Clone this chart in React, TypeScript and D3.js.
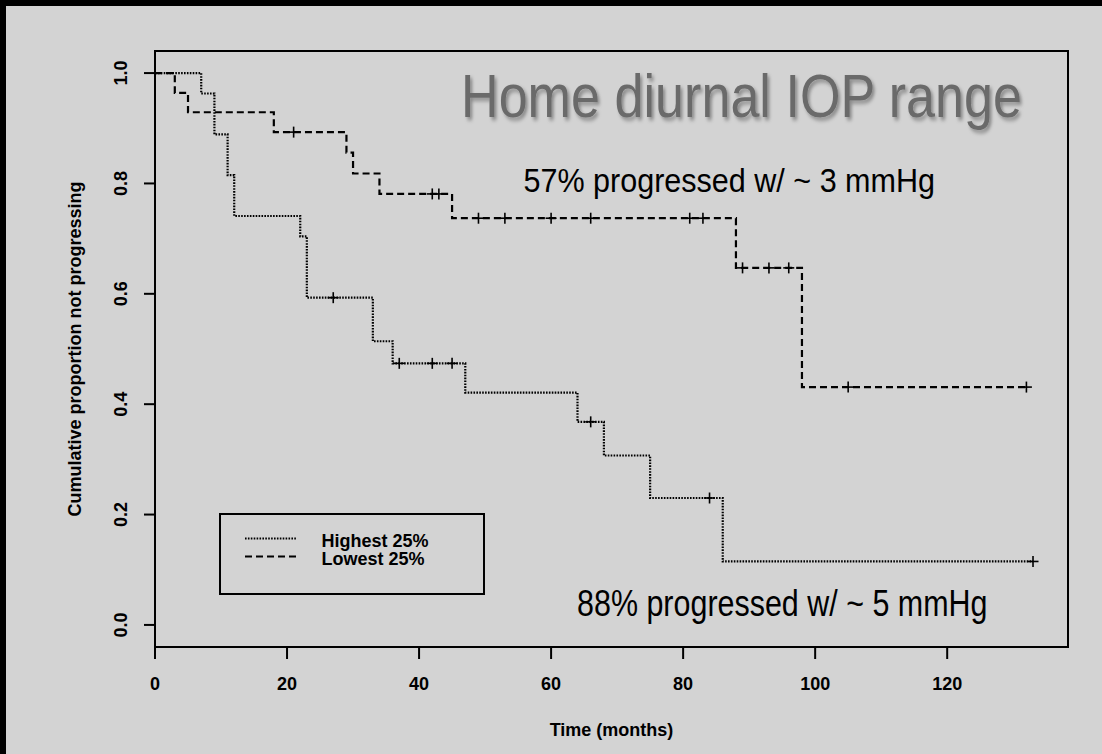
import React from "react";
import * as d3 from "d3";

// Kaplan–Meier curves: time of each step (months) and survival after it
const highTimes = [0, 7, 9, 11, 12, 22, 23, 33, 36, 47, 64, 68, 75, 86];
const highSurv = [1, 0.963, 0.889, 0.815, 0.741, 0.704, 0.593, 0.514, 0.474, 0.421, 0.368, 0.307, 0.23, 0.115];
const highEnd = 133;
const highCensor = [27, 37, 42, 45, 66, 84, 133];

const lowTimes = [0, 3, 5, 18, 29, 30, 34, 45, 88, 98];
const lowSurv = [1, 0.964, 0.929, 0.893, 0.856, 0.818, 0.781, 0.737, 0.647, 0.431];
const lowEnd = 132;
const lowCensor = [21, 42, 43, 49, 53, 60, 66, 81, 83, 89, 93, 96, 105, 132];

const xTicks = [0, 20, 40, 60, 80, 100, 120];
const yTicks = [0, 0.2, 0.4, 0.6, 0.8, 1.0];

const legendLabels = ["Highest 25%", "Lowest 25%"];

const W = 1102;
const H = 754;
const box = { left: 155, right: 1068, top: 51, bottom: 647 };

const x = d3.scaleLinear().domain([0, 138.3]).range([box.left, box.right]);
const y = d3.scaleLinear().domain([-0.04, 1.04]).range([box.bottom, box.top]);

const font = "'Liberation Sans', Arial, Helvetica, sans-serif";

function stepPoints(times: number[], surv: number[], end: number): [number, number][] {
  const pts: [number, number][] = times.map((t, i) => [t, surv[i]]);
  pts.push([end, surv[surv.length - 1]]);
  return pts;
}

function survAt(times: number[], surv: number[], t: number): number {
  let v = surv[0];
  for (let i = 0; i < times.length; i++) if (times[i] <= t) v = surv[i];
  return v;
}

const stepLine = d3
  .line<[number, number]>()
  .x((d) => x(d[0]))
  .y((d) => y(d[1]))
  .curve(d3.curveStepAfter);

const DOTTED = "1.6 1.3";
const DASHED = "7 4";

function Censors({ times, surv, marks }: { times: number[]; surv: number[]; marks: number[] }) {
  return (
    <g stroke="#000" strokeWidth={1.6}>
      {marks.map((t, i) => {
        const cx = x(t);
        const cy = y(survAt(times, surv, t));
        return (
          <g key={i}>
            <line x1={cx - 5.5} x2={cx + 5.5} y1={cy} y2={cy} />
            <line x1={cx} x2={cx} y1={cy - 5.5} y2={cy + 5.5} />
          </g>
        );
      })}
    </g>
  );
}

export default function App() {
  const highPath = stepLine(stepPoints(highTimes, highSurv, highEnd)) || "";
  const lowPath = stepLine(stepPoints(lowTimes, lowSurv, lowEnd)) || "";

  return (
    <svg
      width={W}
      height={H}
      viewBox={`0 0 ${W} ${H}`}
      style={{ position: "absolute", left: 0, top: 0, display: "block" }}
    >
      <defs>
        <filter id="titleShadow" x="-5%" y="-25%" width="115%" height="160%">
          <feDropShadow dx={2.5} dy={3} stdDeviation={2} floodColor="#000" floodOpacity={0.35} />
        </filter>
      </defs>

      {/* page */}
      <rect x={0} y={0} width={W} height={H} fill="#000" />
      <rect x={6} y={6} width={W - 6} height={H - 6} fill="#d3d3d3" />

      {/* plot frame */}
      <rect
        x={box.left}
        y={box.top}
        width={box.right - box.left}
        height={box.bottom - box.top}
        fill="none"
        stroke="#000"
        strokeWidth={2}
      />

      {/* x axis ticks and labels */}
      <g fontFamily={font} fontWeight="bold" fontSize={18} fill="#000">
        {xTicks.map((t) => (
          <g key={t}>
            <line x1={x(t)} x2={x(t)} y1={box.bottom} y2={box.bottom + 12} stroke="#000" strokeWidth={2} />
            <text x={x(t)} y={690} textAnchor="middle">
              {t}
            </text>
          </g>
        ))}
        <text x={(box.left + box.right) / 2} y={736} textAnchor="middle">
          Time (months)
        </text>
      </g>

      {/* y axis ticks and labels */}
      <g fontFamily={font} fontWeight="bold" fontSize={18} fill="#000">
        {yTicks.map((t) => (
          <g key={t}>
            <line x1={box.left - 11} x2={box.left} y1={y(t)} y2={y(t)} stroke="#000" strokeWidth={2} />
            <text
              x={127.5}
              y={y(t)}
              textAnchor="middle"
              transform={`rotate(-90 127.5 ${y(t)})`}
            >
              {t.toFixed(1)}
            </text>
          </g>
        ))}
        <text
          x={81}
          y={(box.top + box.bottom) / 2}
          textAnchor="middle"
          transform={`rotate(-90 81 ${(box.top + box.bottom) / 2})`}
        >
          Cumulative proportion not progressing
        </text>
      </g>

      {/* survival curves */}
      <path d={highPath} fill="none" stroke="#000" strokeWidth={2.2} strokeDasharray={DOTTED} />
      <path d={lowPath} fill="none" stroke="#000" strokeWidth={2.2} strokeDasharray={DASHED} />
      <Censors times={highTimes} surv={highSurv} marks={highCensor} />
      <Censors times={lowTimes} surv={lowSurv} marks={lowCensor} />

      {/* legend */}
      <rect x={220} y={514} width={264} height={80} fill="none" stroke="#000" strokeWidth={2} />
      <line x1={245} x2={297} y1={538.5} y2={538.5} stroke="#000" strokeWidth={2} strokeDasharray={DOTTED} />
      <line x1={245} x2={297} y1={556.5} y2={556.5} stroke="#000" strokeWidth={2} strokeDasharray={DASHED} />
      <g fontFamily={font} fontWeight="bold" fontSize={18} fill="#000">
        <text x={321.5} y={546.5}>{legendLabels[0]}</text>
        <text x={321.5} y={564.5}>{legendLabels[1]}</text>
      </g>

      {/* title (narrowed horizontally) and annotations */}
      <g transform="translate(461 117) scale(0.8407 1)" filter="url(#titleShadow)">
        <text x={0} y={0} fontFamily={font} fontSize={62} fill="#6b6b6b">
          Home diurnal IOP range
        </text>
      </g>
      <text
        x={523.5}
        y={191.5}
        fontFamily={font}
        fontSize={32.5}
        fill="#000"
        textLength={411.5}
        lengthAdjust="spacingAndGlyphs"
      >
        57% progressed w/ ~ 3 mmHg
      </text>
      <text
        x={577}
        y={616}
        fontFamily={font}
        fontSize={36.5}
        fill="#000"
        textLength={410.5}
        lengthAdjust="spacingAndGlyphs"
      >
        88% progressed w/ ~ 5 mmHg
      </text>
    </svg>
  );
}
